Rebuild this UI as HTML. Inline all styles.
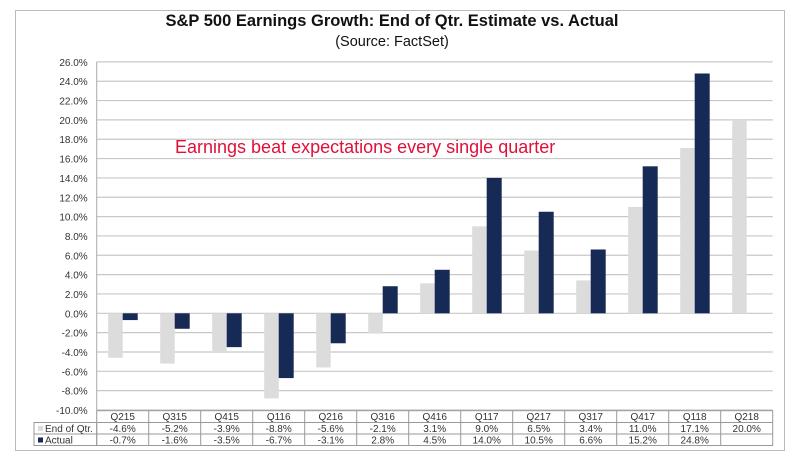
<!DOCTYPE html>
<html><head><meta charset="utf-8"><style>
body{margin:0;background:#fff;width:800px;height:462px;overflow:hidden;font-family:"Liberation Sans",Arial,sans-serif}
</style></head><body>
<svg width="800" height="462" id="c" font-family="Liberation Sans, Arial, sans-serif">
<rect x="15.5" y="10.5" width="769" height="440" fill="#fff" stroke="#bbb"/>
<text x="392" y="26" text-anchor="middle" font-size="16.5" font-weight="bold" fill="#111">S&amp;P 500 Earnings Growth: End of Qtr. Estimate vs. Actual</text>
<text x="392" y="46" text-anchor="middle" font-size="14.5" fill="#111">(Source: FactSet)</text>
<text x="175" y="153" font-size="18" fill="#e0103a">Earnings beat expectations every single quarter</text>
<g id="g"></g>
</svg>
<script>
const categories=["Q215","Q315","Q415","Q116","Q216","Q316","Q416","Q117","Q217","Q317","Q417","Q118","Q218"];
const estimate=[-4.6,-5.2,-3.9,-8.8,-5.6,-2.1,3.1,9.0,6.5,3.4,11.0,17.1,20.0];
const actual=[-0.7,-1.6,-3.5,-6.7,-3.1,2.8,4.5,14.0,10.5,6.6,15.2,24.8,null];
const ticks=[26,24,22,20,18,16,14,12,10,8,6,4,2,0,-2,-4,-6,-8,-10];
const NS="http://www.w3.org/2000/svg",g=document.getElementById('g');
const X0=96.7,CW=52,Y0=313.3,PX=9.67;
const y=v=>Y0-v*PX, x=i=>X0+i*CW;
function mk(t,a,p){const e=document.createElementNS(NS,t);for(const k in a)e.setAttribute(k,a[k]);(p||g).appendChild(e);return e;}
ticks.forEach(t=>{
 const l=mk('line',{x1:X0,x2:x(13),y1:y(t),y2:y(t),stroke:'#c8c8c8','stroke-width':1.2});
 
 
 const tx=mk('text',{x:X0-9,y:y(t)+4,'text-anchor':'end','font-size':10,fill:'#333'});tx.textContent=t.toFixed(1)+'%';
 
 
});
mk('line',{x1:X0,x2:X0,y1:y(26),y2:y(-10),stroke:'#aaa'});
categories.forEach((c,i)=>{
 const e=estimate[i],a=actual[i];
 const r1=mk('rect',{x:x(i)+11.5,y:Math.min(y(e),Y0),width:14.5,height:Math.abs(y(e)-Y0),fill:'#dcdcdc'});
 
 
 if(a!==null){const r2=mk('rect',{x:x(i)+26,y:Math.min(y(a),Y0),width:15,height:Math.abs(y(a)-Y0),fill:'#172a55'});
 
 }
});
const T0=410.7,T1=422.5,T2=434,T3=445.5;
mk('rect',{x:X0,y:T0,width:13*CW,height:T3-T0,fill:'none',stroke:'#999'});
mk('rect',{x:34,y:T1,width:X0-34,height:T3-T1,fill:'none',stroke:'#999'});
mk('line',{x1:34,x2:x(13),y1:T2,y2:T2,stroke:'#999'});
mk('line',{x1:X0,x2:x(13),y1:T1,y2:T1,stroke:'#999'});
for(let i=1;i<13;i++)mk('line',{x1:x(i),x2:x(i),y1:T0,y2:T3,stroke:'#999'});
mk('rect',{x:38,y:T1+3.5,width:5,height:5,fill:'#dcdcdc'});
mk('rect',{x:38,y:T2+3.5,width:5,height:5,fill:'#172a55'});
const l1=mk('text',{x:45,y:T1+9.5,'font-size':10,fill:'#333'});l1.textContent='End of Qtr.';


const l2=mk('text',{x:45,y:T2+9.5,'font-size':10,fill:'#333'});l2.textContent='Actual';


categories.forEach((c,i)=>{
 const cx=x(i)+CW/2;
 const h=mk('text',{x:cx,y:T0+9.5,'text-anchor':'middle','font-size':10,fill:'#333'});h.textContent=c;
 
 
 const e=mk('text',{x:cx,y:T1+9.5,'text-anchor':'middle','font-size':10,fill:'#333'});e.textContent=estimate[i].toFixed(1)+'%';
 
 
 if(actual[i]!==null){const a=mk('text',{x:cx,y:T2+9.5,'text-anchor':'middle','font-size':10,fill:'#333'});a.textContent=actual[i].toFixed(1)+'%';
 
 }
});
</script>
</body></html>
